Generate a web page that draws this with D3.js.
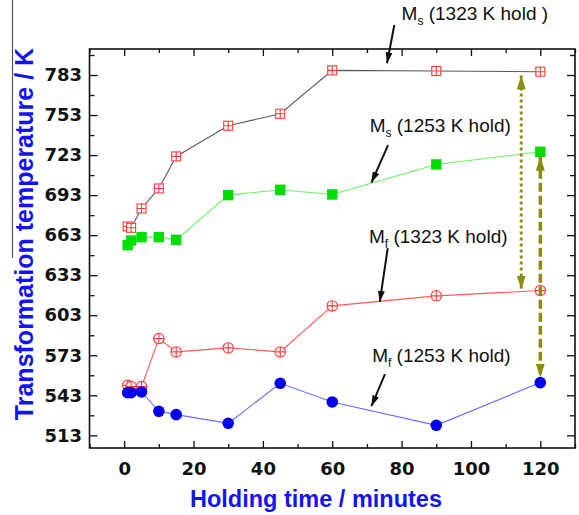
<!DOCTYPE html>
<html>
<head>
<meta charset="utf-8">
<script src="https://cdn.jsdelivr.net/npm/d3@7"></script>
<style>
  html, body { margin: 0; padding: 0; background: #fff; }
  svg { display: block; }
</style>
</head>
<body>
<script>
// Holding time (minutes) at which each transformation temperature was measured
const holdTime = [1, 2, 5, 10, 15, 30, 45, 60, 90, 120];

// Martensite start / finish temperatures (K) for the two holding temperatures
const msHold1323 = [669.5, 668.5, 683, 698, 722, 745, 754, 786.5, 786, 785.5];
const msHold1253 = [655.5, 659, 661.5, 661.5, 659.5, 693, 697, 693.5, 716, 725.5];
const mfHold1323 = [550.5, 549.5, 549.5, 585.5, 575.5, 578.5, 575.5, 610, 617.5, 621.5];
const mfHold1253 = [545, 545, 545.5, 531, 528.5, 522, 552, 538, 520.5, 552.5];

// Axis ticks
const xMajorTicks = [0, 20, 40, 60, 80, 100, 120];
const xMinorTicks = [-10, 10, 30, 50, 70, 90, 110, 130];
const yMajorTicks = [513, 543, 573, 603, 633, 663, 693, 723, 753, 783];
const yMinorTicks = [528, 558, 588, 618, 648, 678, 708, 738, 768, 798];

const W = 579, H = 515;
const plot = { left: 89.5, right: 575, top: 49, bottom: 448 };

const svg = d3.select("body").append("svg").attr("width", W).attr("height", H);

const x = d3.scaleLinear().domain([-10, 130]).range([plot.left, plot.right]);
const y = d3.scaleLinear().domain([503.5, 802.5]).range([plot.bottom, plot.top]);

const defs = svg.append("defs");
function arrowMarker(id, color, w, l) {
  defs.append("marker")
    .attr("id", id)
    .attr("markerUnits", "userSpaceOnUse")
    .attr("viewBox", `0 ${-w / 2} ${l} ${w}`)
    .attr("refX", l).attr("refY", 0)
    .attr("markerWidth", l).attr("markerHeight", w)
    .attr("orient", "auto-start-reverse")
    .append("path")
    .attr("d", `M0,${-w / 2}L${l},0L0,${w / 2}Z`)
    .attr("fill", color);
}
arrowMarker("headBlack", "#111", 7, 11);
arrowMarker("headOlive", "#8c8c12", 9, 14);

// thin rule at the far left edge
svg.append("line")
  .attr("x1", 12.5).attr("x2", 12.5).attr("y1", 0).attr("y2", 258)
  .attr("stroke", "#555").attr("stroke-width", 1.2);

// ---- axes (ticks pointing inward on all four sides) ----
const tickFont = "'DejaVu Sans', Verdana, sans-serif";
function styleAxis(g) {
  g.select(".domain").remove();
  g.selectAll(".tick line").attr("stroke", "#111").attr("stroke-width", 1.3);
  g.selectAll("text")
    .attr("font-family", tickFont)
    .attr("font-weight", "bold")
    .attr("font-size", 18)
    .attr("fill", "#111");
}

svg.append("g").attr("transform", `translate(${plot.left},0)`)
  .call(d3.axisLeft(y).tickValues(yMajorTicks).tickSize(-8).tickPadding(7.5).tickFormat(d3.format("d")))
  .call(styleAxis);
svg.append("g").attr("transform", `translate(${plot.left},0)`)
  .call(d3.axisLeft(y).tickValues(yMinorTicks).tickSize(-5).tickFormat(""))
  .call(styleAxis);
svg.append("g").attr("transform", `translate(${plot.right},0)`)
  .call(d3.axisRight(y).tickValues(yMajorTicks).tickSize(-8).tickFormat(""))
  .call(styleAxis);
svg.append("g").attr("transform", `translate(${plot.right},0)`)
  .call(d3.axisRight(y).tickValues(yMinorTicks).tickSize(-5).tickFormat(""))
  .call(styleAxis);

svg.append("g").attr("transform", `translate(0,${plot.bottom})`)
  .call(d3.axisBottom(x).tickValues(xMajorTicks).tickSize(-7).tickPadding(14).tickFormat(d3.format("d")))
  .call(styleAxis);
svg.append("g").attr("transform", `translate(0,${plot.bottom})`)
  .call(d3.axisBottom(x).tickValues(xMinorTicks).tickSize(-4).tickFormat(""))
  .call(styleAxis);
svg.append("g").attr("transform", `translate(0,${plot.top})`)
  .call(d3.axisTop(x).tickValues(xMajorTicks).tickSize(-7).tickFormat(""))
  .call(styleAxis);
svg.append("g").attr("transform", `translate(0,${plot.top})`)
  .call(d3.axisTop(x).tickValues(xMinorTicks).tickSize(-4).tickFormat(""))
  .call(styleAxis);

svg.append("rect")
  .attr("x", plot.left).attr("y", plot.top)
  .attr("width", plot.right - plot.left).attr("height", plot.bottom - plot.top)
  .attr("fill", "none").attr("stroke", "#111").attr("stroke-width", 1.6);

// ---- axis titles ----
const titleFont = "'Liberation Sans', Arial, Helvetica, sans-serif";
svg.append("text")
  .attr("x", 316).attr("y", 507)
  .attr("text-anchor", "middle")
  .attr("font-family", titleFont).attr("font-weight", "bold").attr("font-size", 23.5)
  .attr("fill", "#1414f0")
  .text("Holding time / minutes");
svg.append("text")
  .attr("transform", "translate(33,234) rotate(-90)")
  .attr("text-anchor", "middle")
  .attr("font-family", titleFont).attr("font-weight", "bold").attr("font-size", 25)
  .attr("fill", "#1414f0")
  .text("Transformation temperature / K");

// ---- series ----
const series = [
  { values: msHold1323, line: "#5a5a5a", marker: "crossSquare", color: "#ff3b3b" },
  { values: msHold1253, line: "#66f266", marker: "square", color: "#00dd00" },
  { values: mfHold1323, line: "#ff5a5a", marker: "plusCircle", color: "#ff3b3b" },
  { values: mfHold1253, line: "#6a6aff", marker: "circle", color: "#0000ee" }
];

const lineGen = d3.line().x(d => x(d[0])).y(d => y(d[1]));

series.forEach(s => {
  const pts = holdTime.map((t, i) => [t, s.values[i]]);
  svg.append("path")
    .attr("d", lineGen(pts))
    .attr("fill", "none")
    .attr("stroke", s.line)
    .attr("stroke-width", 1.1);
});

series.forEach(s => {
  const pts = holdTime.map((t, i) => [t, s.values[i]]);
  const g = svg.append("g");
  pts.forEach(p => {
    const cx = x(p[0]), cy = y(p[1]);
    const m = g.append("g").attr("transform", `translate(${cx},${cy})`);
    if (s.marker === "square") {
      m.append("rect").attr("x", -5.2).attr("y", -5.2).attr("width", 10.4).attr("height", 10.4)
        .attr("fill", s.color);
    } else if (s.marker === "circle") {
      m.append("circle").attr("r", 5.8).attr("fill", s.color);
    } else if (s.marker === "crossSquare") {
      m.append("rect").attr("x", -4.5).attr("y", -4.5).attr("width", 9).attr("height", 9)
        .attr("fill", "#fff").attr("stroke", s.color).attr("stroke-width", 1.1);
      m.append("path").attr("d", "M0,-4.5V4.5M-4.5,0H4.5")
        .attr("stroke", s.color).attr("stroke-width", 1.1);
    } else if (s.marker === "plusCircle") {
      m.append("circle").attr("r", 5.2).attr("fill", "#fff")
        .attr("stroke", s.color).attr("stroke-width", 1.1);
      m.append("path").attr("d", "M0,-5.2V5.2M-5.2,0H5.2")
        .attr("stroke", s.color).attr("stroke-width", 1.1);
    }
  });
});

// ---- vertical double arrows spanning Ms–Mf ----
const lastIdx = holdTime.length - 1;
const dottedX = 114.5;
const interp = (vals, t) => {
  const i = d3.bisectLeft(holdTime, t);
  const f = (t - holdTime[i - 1]) / (holdTime[i] - holdTime[i - 1]);
  return vals[i - 1] + f * (vals[i] - vals[i - 1]);
};
svg.append("line")
  .attr("x1", x(dottedX)).attr("x2", x(dottedX))
  .attr("y1", y(interp(msHold1323, dottedX)) + 4)
  .attr("y2", y(interp(mfHold1323, dottedX)) - 2)
  .attr("stroke", "#8c8c12").attr("stroke-width", 3)
  .attr("stroke-dasharray", "3,3")
  .attr("marker-start", "url(#headOlive)")
  .attr("marker-end", "url(#headOlive)");
svg.append("line")
  .attr("x1", x(holdTime[lastIdx])).attr("x2", x(holdTime[lastIdx]))
  .attr("y1", y(msHold1253[lastIdx]) + 5)
  .attr("y2", y(mfHold1253[lastIdx]) - 5)
  .attr("stroke", "#8c8c12").attr("stroke-width", 3.5)
  .attr("stroke-dasharray", "9,4")
  .attr("marker-start", "url(#headOlive)")
  .attr("marker-end", "url(#headOlive)");

// ---- series annotations with pointer arrows ----
const notes = [
  { sub: "s", rest: " (1323 K hold )", tx: 80.0, ty: 824.0, a: [77.9, 820.5, 75.8, 791.8] },
  { sub: "s", rest: " (1253 K hold)", tx: 70.8, ty: 740.3, a: [76.1, 730.5, 71.3, 702.3] },
  { sub: "f", rest: " (1323 K hold)", tx: 70.6, ty: 656.8, a: [76.0, 653.3, 73.7, 613.0] },
  { sub: "f", rest: " (1253 K hold)", tx: 71.5, ty: 568.0, a: [75.2, 558.8, 71.3, 534.8] }
];
notes.forEach(n => {
  const t = svg.append("text")
    .attr("x", x(n.tx)).attr("y", y(n.ty))
    .attr("font-family", titleFont).attr("font-size", 19).attr("fill", "#111");
  t.append("tspan").text("M");
  t.append("tspan").attr("font-size", 12).attr("dy", 5).text(n.sub);
  t.append("tspan").attr("dy", -5).text(n.rest);
  svg.append("line")
    .attr("x1", x(n.a[0])).attr("y1", y(n.a[1]))
    .attr("x2", x(n.a[2])).attr("y2", y(n.a[3]))
    .attr("stroke", "#111").attr("stroke-width", 2)
    .attr("marker-end", "url(#headBlack)");
});
</script>
</body>
</html>
